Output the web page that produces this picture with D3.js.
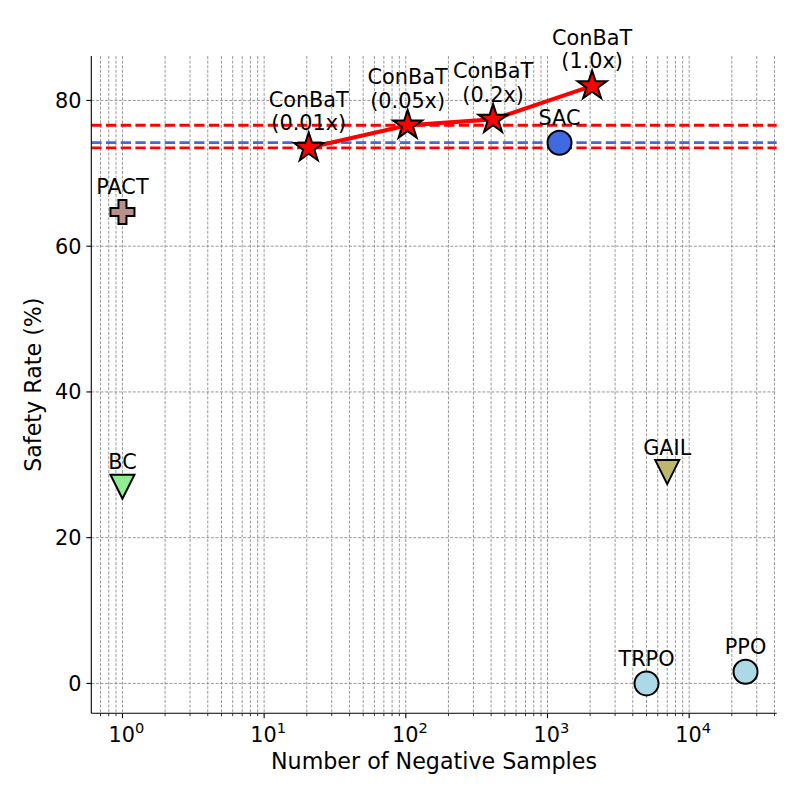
<!DOCTYPE html>
<html>
<head>
<meta charset="utf-8">
<script src="https://cdn.jsdelivr.net/npm/d3@7"></script>
<style>
  body { margin: 0; background: #fff; }
  svg text { font-family: "DejaVu Sans", sans-serif; fill: #000; }
</style>
</head>
<body>
<svg id="chart" width="800" height="800"></svg>
<script>
// baseline methods
const methods = ["PACT", "BC", "GAIL", "TRPO", "PPO", "SAC"];
const methodSamples = [1, 1, 7000, 5000, 25000, 1216];
const methodSafety = [64.7, 27.0, 29.0, 0.0, 1.6, 74.2];

// ConBaT at different data fractions
const conbatFractions = ["0.01x", "0.05x", "0.2x", "1.0x"];
const conbatSamples = [20.65, 103, 413, 2065];
const conbatSafety = [73.5, 76.6, 77.4, 82.0];

// reference lines (value, which series)
const refValues = [76.6, 74.2, 73.5];
const refSeries = ["ConBaT", "SAC", "ConBaT"];

const yTicks = [0, 20, 40, 60, 80];
const xTickExponents = [0, 1, 2, 3, 4];

// styling kept apart from the data
const style = {
    PACT: {shape: "plus", fill: "#bc8f8f"},
    BC: {shape: "tri", fill: "#90ee90"},
    GAIL: {shape: "tri", fill: "#bdb76b"},
    TRPO: {shape: "circle", fill: "#add8e6"},
    PPO: {shape: "circle", fill: "#add8e6"},
    SAC: {shape: "circle", fill: "#4169e1"},
    ConBaT: {shape: "star", fill: "#ff0000"}
};

const plotLeft = 91.3, plotRight = 776.7, plotTop = 56, plotBottom = 713.3;
const fs = 20.8;     // tick labels and annotations
const fsLabel = 22.2; // axis titles
const R = 12;        // circle / triangle / plus half size
const RS = 15.3;     // star outer radius

let svg = d3.select("#chart");

// matplotlib-like 5% margins (log space on x)
let allX = methodSamples.concat(conbatSamples);
let allY = methodSafety.concat(conbatSafety);
let lx0 = Math.log10(d3.min(allX)), lx1 = Math.log10(d3.max(allX));
let mx = (lx1 - lx0) * 0.05;
let y0 = d3.min(allY), y1 = d3.max(allY);
let my = (y1 - y0) * 0.05;

let x = d3.scaleLog()
    .domain([Math.pow(10, lx0 - mx), Math.pow(10, lx1 + mx)])
    .range([plotLeft, plotRight]);
let y = d3.scaleLinear()
    .domain([y0 - my, y1 + my])
    .range([plotBottom, plotTop]);

// minor ticks for log axis
let minorTicks = [];
for (let e = -1; e <= 5; e++) {
    for (let m = 2; m <= 9; m++) {
        let v = m * Math.pow(10, e);
        if (v >= x.domain()[0] && v <= x.domain()[1]) minorTicks.push(v);
    }
}
let majorTicks = xTickExponents.map(e => Math.pow(10, e));

// grid
let grid = svg.append("g").attr("class", "grid")
    .attr("stroke", "#808080").attr("stroke-width", 0.8)
    .attr("stroke-dasharray", "3,1.6");
grid.selectAll("line.vx")
    .data(majorTicks.concat(minorTicks))
    .enter().append("line")
    .attr("x1", d => x(d)).attr("x2", d => x(d))
    .attr("y1", plotTop).attr("y2", plotBottom);
grid.selectAll("line.hy")
    .data(yTicks)
    .enter().append("line")
    .attr("x1", plotLeft).attr("x2", plotRight)
    .attr("y1", d => y(d)).attr("y2", d => y(d));

// horizontal reference lines
svg.append("g").selectAll("line")
    .data(refValues)
    .enter().append("line")
    .attr("x1", plotLeft).attr("x2", plotRight)
    .attr("y1", d => y(d)).attr("y2", d => y(d))
    .attr("stroke", (d, i) => refSeries[i] == "SAC" ? "#4169e1" : "#ff0000")
    .attr("stroke-width", 2.8)
    .attr("stroke-dasharray", "10.3,4.4");

// ConBaT line
let conbat = conbatSamples.map((s, i) => ({x: s, y: conbatSafety[i], frac: conbatFractions[i]}));
svg.append("path")
    .datum(conbat)
    .attr("d", d3.line().x(d => x(d.x)).y(d => y(d.y)))
    .attr("fill", "none")
    .attr("stroke", "#ff0000")
    .attr("stroke-width", 4.2)
    .attr("stroke-linejoin", "round");

function shapePath(shape) {
    if (shape == "star") {
        let p = [];
        for (let k = 0; k < 10; k++) {
            let r = k % 2 == 0 ? RS : RS * 0.381966;
            let a = -Math.PI / 2 + k * Math.PI / 5;
            p.push([r * Math.cos(a), r * Math.sin(a)]);
        }
        return "M" + p.map(q => q.join(",")).join("L") + "Z";
    }
    if (shape == "tri") {
        return `M${-R},${-R}L${R},${-R}L0,${R}Z`;
    }
    if (shape == "plus") {
        let a = R / 3;
        return `M${-a},${-R}L${a},${-R}L${a},${-a}L${R},${-a}L${R},${a}L${a},${a}L${a},${R}` +
               `L${-a},${R}L${-a},${a}L${-R},${a}L${-R},${-a}L${-a},${-a}Z`;
    }
    return `M${R},0A${R},${R} 0 1,1 ${-R},0A${R},${R} 0 1,1 ${R},0Z`;
}

// baseline markers
let pts = methods.map((m, i) => ({name: m, x: methodSamples[i], y: methodSafety[i]}));
svg.append("g").selectAll("path")
    .data(pts)
    .enter().append("path")
    .attr("transform", d => "translate(" + x(d.x) + "," + y(d.y) + ")")
    .attr("d", d => shapePath(style[d.name].shape))
    .attr("fill", d => style[d.name].fill)
    .attr("stroke", "#000")
    .attr("stroke-width", 2);

svg.append("g").selectAll("path")
    .data(conbat)
    .enter().append("path")
    .attr("transform", d => "translate(" + x(d.x) + "," + y(d.y) + ")")
    .attr("d", shapePath("star"))
    .attr("fill", style.ConBaT.fill)
    .attr("stroke", "#000")
    .attr("stroke-width", 2);

// point labels
svg.append("g").selectAll("text")
    .data(pts)
    .enter().append("text")
    .attr("x", d => x(d.x))
    .attr("y", d => y(d.y) - 17.5)
    .attr("text-anchor", "middle")
    .attr("font-size", fs)
    .text(d => d.name);

let cl = svg.append("g").selectAll("text")
    .data(conbat)
    .enter().append("text")
    .attr("text-anchor", "middle")
    .attr("font-size", fs);
cl.append("tspan")
    .attr("x", d => x(d.x))
    .attr("y", d => y(d.y) - 17.5 - 23.5)
    .text("ConBaT");
cl.append("tspan")
    .attr("x", d => x(d.x))
    .attr("y", d => y(d.y) - 17.5)
    .text(d => "(" + d.frac + ")");

// axes
let axes = svg.append("g").attr("stroke", "#000");
axes.append("line").attr("x1", plotLeft).attr("x2", plotLeft).attr("y1", plotTop).attr("y2", plotBottom).attr("stroke-width", 1.1);
axes.append("line").attr("x1", plotLeft).attr("x2", plotRight).attr("y1", plotBottom).attr("y2", plotBottom).attr("stroke-width", 1.1);

axes.selectAll("line.ymaj").data(yTicks).enter().append("line")
    .attr("x1", plotLeft - 4.9).attr("x2", plotLeft)
    .attr("y1", d => y(d)).attr("y2", d => y(d)).attr("stroke-width", 1.1);
axes.selectAll("line.xmaj").data(majorTicks).enter().append("line")
    .attr("x1", d => x(d)).attr("x2", d => x(d))
    .attr("y1", plotBottom).attr("y2", plotBottom + 4.9).attr("stroke-width", 1.1);
axes.selectAll("line.xmin").data(minorTicks).enter().append("line")
    .attr("x1", d => x(d)).attr("x2", d => x(d))
    .attr("y1", plotBottom).attr("y2", plotBottom + 2.8).attr("stroke-width", 0.8);

svg.append("g").selectAll("text")
    .data(yTicks).enter().append("text")
    .attr("x", plotLeft - 9.8)
    .attr("y", d => y(d) + 7.5)
    .attr("text-anchor", "end")
    .attr("font-size", fs)
    .text(d => d);

let xt = svg.append("g").selectAll("text")
    .data(xTickExponents).enter().append("text")
    .attr("x", d => x(Math.pow(10, d)) + 4)
    .attr("y", 741.7)
    .attr("text-anchor", "middle")
    .attr("font-size", fs);
xt.append("tspan").text("10");
xt.append("tspan").attr("font-size", 14.6).attr("dy", -8.5).text(d => d);

svg.append("text")
    .attr("x", (plotLeft + plotRight) / 2)
    .attr("y", 769)
    .attr("text-anchor", "middle")
    .attr("font-size", fsLabel)
    .text("Number of Negative Samples");

svg.append("text")
    .attr("transform", "translate(41," + (plotTop + plotBottom) / 2 + ") rotate(-90)")
    .attr("text-anchor", "middle")
    .attr("font-size", fsLabel)
    .text("Safety Rate (%)");
</script>
</body>
</html>
